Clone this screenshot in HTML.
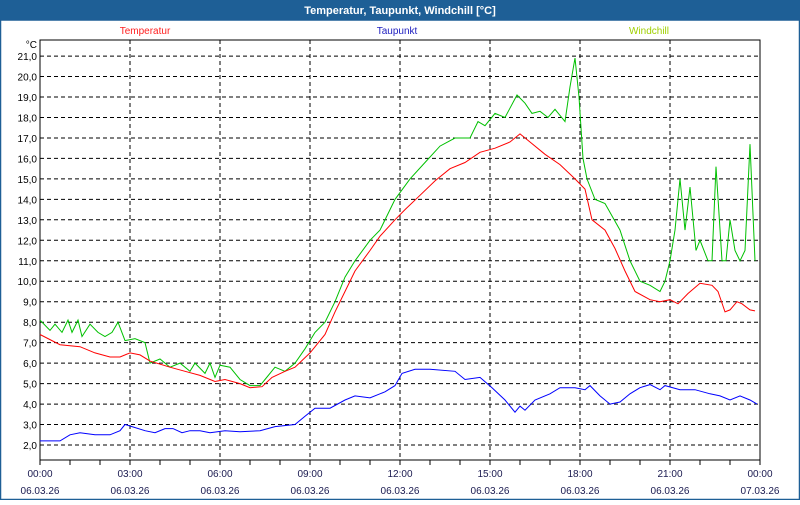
<!DOCTYPE html>
<html><head><meta charset="utf-8"><style>
body{margin:0;width:800px;height:500px;overflow:hidden;background:#fff;font-family:"Liberation Sans",sans-serif}
</style></head><body>
<svg id="s" width="800" height="500" xmlns="http://www.w3.org/2000/svg" font-family="Liberation Sans, sans-serif" font-size="10">
<rect x="0" y="0" width="800" height="500" fill="#fff"/>
<rect x="0" y="0" width="800" height="20" fill="#1e5f96"/>
<rect x="0.5" y="20" width="799" height="479.5" fill="none" stroke="#1e5f96" stroke-width="1.5"/>
<text x="400" y="14" fill="#fff" font-weight="bold" font-size="11" text-anchor="middle">Temperatur, Taupunkt, Windchill [°C]</text>
<text x="145" y="34" fill="#ff2020" text-anchor="middle">Temperatur</text>
<text x="397" y="34" fill="#2020c0" text-anchor="middle">Taupunkt</text>
<text x="649" y="34" fill="#a0d000" text-anchor="middle">Windchill</text>
<text x="37" y="48" text-anchor="end">°C</text>
<g id="grid"></g>
<rect x="40" y="40" width="720" height="420" fill="none" stroke="#000" stroke-width="1"/>
<g id="lines"></g>
</svg>
<script>
var NS="http://www.w3.org/2000/svg";
function Y(v){return 445-(v-2)*20.47;}
var g=document.getElementById('grid'),s='';
for(var v=2;v<=21;v++){var y=Y(v).toFixed(1);
s+='<line x1="40" x2="760" y1="'+y+'" y2="'+y+'" stroke="#000" stroke-dasharray="4,3"/>';
s+='<text x="37" y="'+(+y+4)+'" text-anchor="end" fill="#000">'+v+',0</text>';}
for(var i=0;i<=8;i++){var x=40+i*90;
if(i>0&&i<8)s+='<line x1="'+x+'" x2="'+x+'" y1="40" y2="460" stroke="#000" stroke-dasharray="4,3"/>';
var h=(i*3)%24;s+='<text x="'+x+'" y="477" text-anchor="middle" fill="#1a1a50">'+(h<10?'0':'')+h+':00</text>';
s+='<text x="'+x+'" y="494" text-anchor="middle" fill="#1a1a50">'+(i==8?'07.03.26':'06.03.26')+'</text>';}
for(var x=40;x<=760;x+=30)s+='<line x1="'+x+'" x2="'+x+'" y1="460" y2="465" stroke="#000"/>';
g.innerHTML=s;
var red=[40,7.4,60,6.9,80,6.8,95,6.5,110,6.3,120,6.3,130,6.5,140,6.4,150,6.1,170,5.8,185,5.6,200,5.4,215,5.1,225,5.2,240,5.0,250,4.8,262,4.85,272,5.3,285,5.6,295,5.8,310,6.5,325,7.4,335,8.5,345,9.5,355,10.5,370,11.5,380,12.2,395,13.0,405,13.5,420,14.2,435,14.9,450,15.5,465,15.8,480,16.3,495,16.5,510,16.8,520,17.2,530,16.8,545,16.2,560,15.7,575,15.0,585,14.5,592,13.0,605,12.5,615,11.6,625,10.5,635,9.5,650,9.1,660,9.0,670,9.1,678,8.9,688,9.4,700,9.9,712,9.8,718,9.5,725,8.5,730,8.6,737,9.0,742,8.9,750,8.6,755,8.55];
var green=[40,8.1,50,7.6,55,7.9,62,7.5,68,8.1,72,7.5,78,8.1,82,7.3,90,7.9,98,7.5,105,7.3,112,7.5,118,8.0,125,7.1,135,7.2,145,7.0,150,6.0,160,6.2,170,5.8,180,6.0,190,5.6,195,6.0,205,5.5,210,6.0,215,5.3,220,5.9,230,5.8,240,5.2,250,4.9,260,4.9,265,5.2,275,5.8,285,5.6,295,6.0,305,6.7,315,7.5,325,8.0,335,9.0,345,10.2,355,11.0,370,12.0,380,12.5,395,14.0,410,15.0,425,15.8,440,16.6,455,17.0,470,17.0,478,17.8,485,17.6,495,18.2,505,18.0,517,19.1,525,18.7,532,18.2,540,18.3,548,18.0,555,18.4,565,17.8,570,19.5,575,20.9,579,19.0,583,16.0,587,15.0,595,14.0,605,13.8,620,12.5,630,11.0,640,10.0,650,9.8,660,9.5,665,10.0,670,11.0,675,12.5,680,15.0,685,12.5,690,14.6,696,11.5,700,12.0,708,11.0,712,11.0,716,15.6,722,11.0,726,11.0,730,13.0,735,11.5,740,11.0,745,11.5,750,16.7,755,11.0];
var blue=[40,2.2,60,2.2,70,2.5,80,2.6,95,2.5,110,2.5,120,2.7,125,3.0,132,2.9,145,2.7,155,2.6,165,2.8,173,2.8,182,2.6,190,2.7,200,2.7,210,2.6,225,2.7,240,2.65,260,2.7,275,2.9,295,3.0,305,3.4,315,3.8,330,3.8,345,4.2,355,4.4,370,4.3,385,4.6,395,4.9,402,5.5,415,5.7,430,5.7,455,5.6,465,5.2,480,5.3,492,4.8,505,4.2,515,3.6,520,3.9,525,3.7,535,4.2,550,4.5,560,4.8,575,4.8,585,4.7,590,4.9,600,4.4,610,4.0,620,4.1,630,4.5,640,4.8,650,4.95,660,4.7,665,4.9,680,4.7,695,4.7,710,4.5,720,4.4,730,4.2,740,4.4,750,4.2,757,4.0];
function pl(a,c){var p=[];for(var i=0;i<a.length;i+=2)p.push(a[i]+','+Y(a[i+1]).toFixed(1));
return '<polyline fill="none" stroke="'+c+'" stroke-width="1" points="'+p.join(' ')+'"/>';}
document.getElementById('lines').innerHTML=pl(green,'#00c000')+pl(red,'#ff0000')+pl(blue,'#0000ff');
</script>
</body></html>
